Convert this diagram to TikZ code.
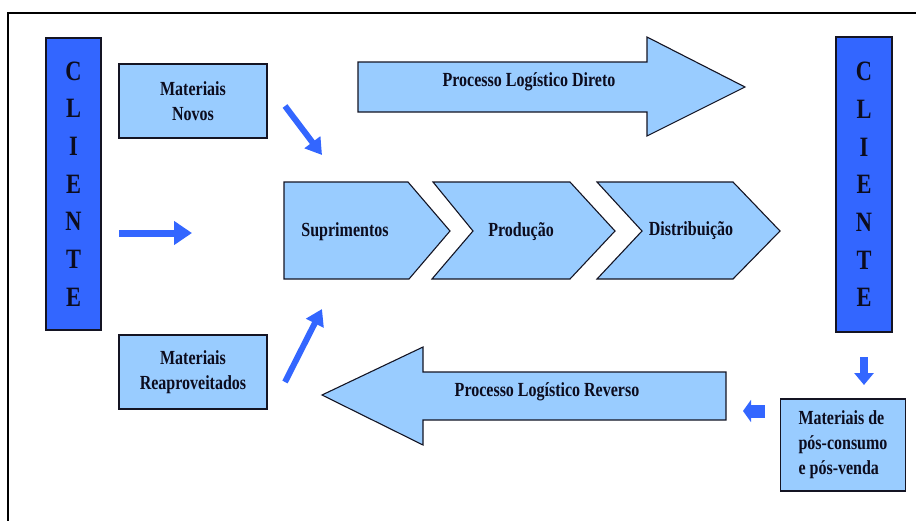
\documentclass[tikz,border=0pt]{standalone}
\usepackage{fontspec}
\newfontfamily\labelfont[FakeStretch=0.8]{Liberation Serif}
\usetikzlibrary{arrows.meta}

\definecolor{lightblue}{RGB}{153,204,255}
\definecolor{clientblue}{RGB}{51,102,255}
\definecolor{arrowblue}{RGB}{51,102,255}
\definecolor{edge}{RGB}{20,20,35}
\definecolor{ink}{RGB}{12,12,30}

\tikzset{
  lightbox/.style={draw=edge, fill=lightblue, line width=1.1pt},
  clientbar/.style={draw=edge, fill=clientblue, line width=1.1pt,
    inner sep=0pt, text=ink,
    font=\labelfont\bfseries\fontsize{28}{37.7}\selectfont, align=center},
  boxnode/.style={lightbox, inner sep=0pt, text=ink,
    font=\labelfont\bfseries\fontsize{20}{25}\selectfont, align=center},
  label/.style={text=ink, inner sep=0pt,
    font=\labelfont\bfseries\fontsize{20}{25}\selectfont, align=center},
  flowarrow/.style={draw=arrowblue, line width=6pt,
    -{Triangle[length=16pt,width=19pt]}},
  blockarrow/.style={draw=arrowblue, line width=8pt,
    -{Triangle[length=12pt,width=19pt]}}
}

\begin{document}
\begin{tikzpicture}[x=1pt,y=-1pt]
  \useasboundingbox (0,0) rectangle (916,520);
  \clip (0,0) rectangle (916,520);

  % outer frame
  \draw[line width=2.8pt, draw=black] (8,13) rectangle (950,560);

  % customer bars
  \node[clientbar, minimum width=55pt, minimum height=292pt] (clientL) at (73.5,184)
    {C\\L\\I\\E\\N\\T\\E};
  \node[clientbar, minimum width=56pt, minimum height=295pt] (clientR) at (864,184.5)
    {C\\L\\I\\E\\N\\T\\E};

  % material boxes
  \node[boxnode, minimum width=148pt, minimum height=74pt] (novos) at (193,101)
    {Materiais\\Novos};
  \node[boxnode, minimum width=148pt, minimum height=74pt] (reapr) at (193,372)
    {Materiais\\Reaproveitados};
  \node[boxnode, minimum width=125pt, minimum height=92pt, align=left] (posc) at (843,445)
    {Materiais de\\p\'os-consumo\\e p\'os-venda};

  % forward logistics arrow
  \draw[lightbox] (358,62) -- (647,62) -- (647,37) -- (745,87) -- (647,136)
    -- (647,112) -- (358,112) -- cycle;
  \node[label] (direto) at (529,82) {Processo Log\'istico Direto};

  % reverse logistics arrow
  \draw[lightbox] (726,372) -- (423,372) -- (423,347) -- (322,395) -- (423,445)
    -- (423,420) -- (726,420) -- cycle;
  \node[label] (reverso) at (547,392) {Processo Log\'istico Reverso};

  % supply chain chevrons
  \draw[lightbox] (284,182) -- (408,182) -- (450,231) -- (409,279) -- (284,279) -- cycle;
  \draw[lightbox] (433,182) -- (570,182) -- (615,231) -- (570,279) -- (432,279)
    -- (473,231) -- cycle;
  \draw[lightbox] (597,182) -- (733,182) -- (780,231) -- (733,279) -- (597,279)
    -- (642,231) -- cycle;
  \node[label] (supr) at (345,232) {Suprimentos};
  \node[label] (prod) at (521,232) {Produ\c{c}\~ao};
  \node[label] (dist) at (691,231) {Distribui\c{c}\~ao};

  % flow arrows
  \coordinate (novosOut) at (285,106);
  \coordinate (novosIn)  at (322,155);
  \coordinate (cliOut)   at (119,233);
  \coordinate (cliIn)    at (192,233);
  \coordinate (reaprOut) at (285,382);
  \coordinate (reaprIn)  at (322,309);
  \coordinate (downOut)  at (864,357);
  \coordinate (downIn)   at (864,385);
  \coordinate (backOut)  at (765,411);
  \coordinate (backIn)   at (743,411);

  \draw[flowarrow] (novosOut) -- (novosIn);
  \draw[flowarrow, -{Triangle[length=18pt,width=23pt]}, line width=7pt] (cliOut) -- (cliIn);
  \draw[flowarrow] (reaprOut) -- (reaprIn);
  \draw[blockarrow] (downOut) -- (downIn);
  \draw[blockarrow, line width=13pt, -{Triangle[length=8pt,width=22pt]}] (backOut) -- (backIn);
\end{tikzpicture}
\end{document}
